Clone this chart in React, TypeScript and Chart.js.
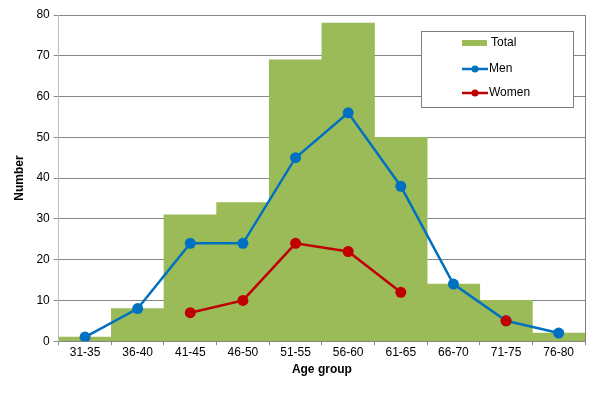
import React, { useEffect, useRef } from "react";
import { Chart, registerables } from "chart.js";

Chart.register(...registerables);

const categories = ["31-35", "36-40", "41-45", "46-50", "51-55", "56-60", "61-65", "66-70", "71-75", "76-80"];
const totalValues = [1, 8, 31, 34, 69, 78, 50, 14, 10, 2];
const menValues = [1, 8, 24, 24, 45, 56, 38, 14, 5, 2];
const womenValues: (number | null)[] = [null, null, 7, 10, 24, 22, 12, null, 5, null];
const yTicks = [0, 10, 20, 30, 40, 50, 60, 70, 80];

const GREEN = "#9BBB59";
const BLUE = "#0070C0";
const RED = "#C00000";
const FONT = "'Liberation Sans', Arial, sans-serif";

const frameAndLegend = {
  id: "frameAndLegend",
  afterDatasetsDraw(chart: any) {
    const { ctx, chartArea } = chart;
    ctx.save();
    ctx.strokeStyle = "#7F7F7F";
    ctx.lineWidth = 1;
    ctx.beginPath();
    ctx.moveTo(Math.round(chartArea.right) + 0.5, chartArea.top);
    ctx.lineTo(Math.round(chartArea.right) + 0.5, chartArea.bottom);
    ctx.stroke();

    const bx = 421, by = 31, bw = 152, bh = 76;
    ctx.fillStyle = "#FFFFFF";
    ctx.fillRect(bx, by, bw, bh);
    ctx.strokeStyle = "#7F7F7F";
    ctx.strokeRect(bx + 0.5, by + 0.5, bw, bh);

    ctx.font = `12px ${FONT}`;
    ctx.textBaseline = "middle";
    ctx.textAlign = "left";
    ctx.fillStyle = GREEN;
    ctx.fillRect(462, 40, 25, 6);
    ctx.fillStyle = "#000";
    ctx.fillText("Total", 491, 43);
    const items = [
      { label: "Men", color: BLUE, y: 69 },
      { label: "Women", color: RED, y: 93 },
    ];
    for (const it of items) {
      ctx.strokeStyle = it.color;
      ctx.lineWidth = 2.5;
      ctx.beginPath();
      ctx.moveTo(462, it.y);
      ctx.lineTo(488, it.y);
      ctx.stroke();
      ctx.fillStyle = it.color;
      ctx.beginPath();
      ctx.arc(475, it.y, 3.5, 0, Math.PI * 2);
      ctx.fill();
      ctx.fillStyle = "#000";
      ctx.fillText(it.label, 489, it.y);
    }
    ctx.restore();
  },
};

export default function App() {
  const ref = useRef<HTMLCanvasElement>(null);
  useEffect(() => {
    if (!ref.current) return;
    const chart = new Chart(ref.current, {
      data: {
        labels: categories,
        datasets: [
          {
            type: "line",
            label: "Women",
            data: womenValues,
            borderColor: RED,
            backgroundColor: RED,
            borderWidth: 2.5,
            pointRadius: 5.5,
            pointBackgroundColor: RED,
            pointBorderWidth: 0,
            spanGaps: false,
            order: 0,
          },
          {
            type: "line",
            label: "Men",
            data: menValues,
            borderColor: BLUE,
            backgroundColor: BLUE,
            borderWidth: 2.5,
            pointRadius: 5.5,
            pointBackgroundColor: BLUE,
            pointBorderWidth: 0,
            order: 1,
          },
          {
            type: "bar",
            label: "Total",
            data: totalValues,
            backgroundColor: GREEN,
            borderWidth: 0,
            barPercentage: 1,
            categoryPercentage: 1,
            order: 2,
          },
        ],
      } as any,
      options: {
        responsive: false,
        animation: false,
        layout: { padding: { top: 15, right: 14, left: 12, bottom: 16 } },
        plugins: {
          legend: { display: false },
          tooltip: { enabled: false },
        },
        scales: {
          x: {
            offset: true,
            grid: {
              offset: true,
              drawOnChartArea: false,
              drawTicks: true,
              tickLength: 4,
              color: "#868686",
            },
            border: { color: "#868686" },
            ticks: { color: "#000", font: { family: FONT, size: 12 }, padding: 0, maxRotation: 0 },
            title: {
              display: true,
              text: "Age group",
              color: "#000",
              font: { family: FONT, size: 12, weight: "bold" },
              padding: { top: 3, bottom: 0 },
            },
          },
          y: {
            min: 0,
            max: 80,
            afterBuildTicks(axis: any) {
              axis.ticks = yTicks.map((v) => ({ value: v }));
            },
            grid: { color: "#868686", tickLength: 5, drawTicks: true },
            border: { color: "#BFBFBF" },
            ticks: { color: "#000", font: { family: FONT, size: 12 }, padding: 4 },
            title: {
              display: true,
              text: "Number",
              color: "#000",
              font: { family: FONT, size: 12, weight: "bold" },
              padding: { top: 0, bottom: 6 },
            },
          },
        },
      } as any,
      plugins: [frameAndLegend],
    });
    return () => chart.destroy();
  }, []);
  return (
    <div style={{ position: "fixed", left: 0, top: 0, width: 599, height: 393, background: "#fff" }}>
      <canvas ref={ref} width={599} height={393} style={{ width: 599, height: 393 }} />
    </div>
  );
}
